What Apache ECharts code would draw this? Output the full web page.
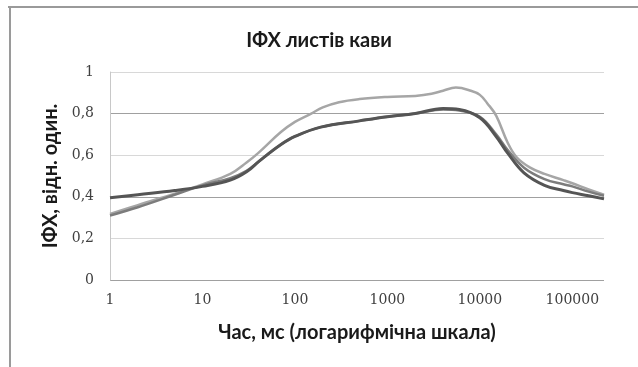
<!DOCTYPE html>
<html>
<head>
<meta charset="utf-8">
<script src="https://cdn.jsdelivr.net/npm/echarts@6/dist/echarts.min.js"></script>
<style>
html,body{margin:0;padding:0;background:#fff;}
#chart{width:638px;height:367px;}
</style>
</head>
<body>
<div id="chart"></div>
<script>
// Time (ms), log scale
const timeLight = [1, 2, 5, 10, 20, 30, 40, 70, 100, 150, 200, 300, 500, 1000, 2000, 3000, 4000, 5500, 8000, 10000, 12000, 15000, 20000, 25000, 35000, 50000, 80000, 100000, 150000, 220000];
const valLight  = [0.317, 0.36, 0.415, 0.46, 0.51, 0.565, 0.61, 0.71, 0.76, 0.80, 0.83, 0.855, 0.87, 0.88, 0.885, 0.895, 0.91, 0.925, 0.91, 0.89, 0.85, 0.79, 0.66, 0.59, 0.54, 0.51, 0.48, 0.465, 0.435, 0.41];

const timeMid = [1, 2, 5, 10, 20, 30, 42, 70, 100, 190, 500, 1000, 2000, 4000, 6000, 10000, 15000, 20000, 30000, 50000, 80000, 100000, 150000, 220000];
const valMid  = [0.31, 0.35, 0.41, 0.455, 0.49, 0.525, 0.575, 0.65, 0.69, 0.735, 0.765, 0.785, 0.80, 0.82, 0.815, 0.785, 0.70, 0.625, 0.54, 0.485, 0.46, 0.45, 0.425, 0.405];

const timeDark = [1, 2, 5, 10, 20, 30, 42, 70, 100, 190, 500, 1000, 2000, 4000, 6000, 10000, 15000, 20000, 30000, 50000, 80000, 100000, 150000, 220000];
const valDark  = [0.395, 0.41, 0.43, 0.45, 0.48, 0.52, 0.575, 0.65, 0.69, 0.735, 0.765, 0.785, 0.80, 0.825, 0.82, 0.78, 0.69, 0.61, 0.515, 0.455, 0.43, 0.42, 0.405, 0.39];

const yTicks = [0, 0.2, 0.4, 0.6, 0.8, 1];

const titleText = 'ІФХ листів кави';
const xName = 'Час, мс (логарифмічна шкала)';
const yName = 'ІФХ, відн. один.';

function pairs(t, v) { return t.map((x, i) => [x, v[i]]); }

const chart = echarts.init(document.getElementById('chart'), null, {renderer: 'canvas'});
const labelFont = {fontFamily: 'DejaVu Serif', fontSize: 14, color: '#404040'};
chart.setOption({
  animation: false,
  backgroundColor: '#fff',
  title: {
    text: titleText, left: 'center', top: 26,
    textStyle: {fontFamily: 'Lato', fontWeight: 'bold', fontSize: 20, color: '#1a1a1a'}
  },
  grid: {left: 110, right: 34, top: 72, bottom: 87},
  xAxis: {
    type: 'log', logBase: 10, min: 1, max: 220000,
    name: xName, nameLocation: 'middle', nameGap: 43,
    nameTextStyle: {fontFamily: 'Lato', fontWeight: 'bold', fontSize: 20, color: '#1a1a1a'},
    axisLine: {show: false},
    axisTick: {show: false},
    splitLine: {show: false},
    axisLabel: Object.assign({margin: 13, showMaxLabel: false, formatter: v => String(Math.round(v))}, labelFont)
  },
  yAxis: {
    type: 'value', min: 0, max: 1, interval: 0.2,
    name: yName, nameLocation: 'middle', nameGap: 48,
    nameTextStyle: {fontFamily: 'Lato', fontWeight: 'bold', fontSize: 20, color: '#1a1a1a'},
    axisLine: {show: true, lineStyle: {color: '#c8c8c8', width: 1}},
    axisTick: {show: false},
    splitLine: {show: true, lineStyle: {color: ['#a0a0a0', '#d8d8d8'], width: 1}},
    axisLabel: Object.assign({margin: 16, formatter: v => {
      const t = yTicks.find(x => Math.abs(x - v) < 1e-9);
      return (t === undefined ? v : t).toString().replace('.', ',');
    }}, labelFont)
  },
  series: [
    {type: 'line', data: pairs(timeLight, valLight), smooth: 0.4, showSymbol: false,
     lineStyle: {color: '#a6a6a6', width: 2.5}},
    {type: 'line', data: pairs(timeMid, valMid), smooth: 0.4, showSymbol: false,
     lineStyle: {color: '#7c7c7c', width: 2.5}},
    {type: 'line', data: pairs(timeDark, valDark), smooth: 0.4, showSymbol: false,
     lineStyle: {color: '#555555', width: 3}}
  ],
  graphic: [
    {type: 'line', shape: {x1: 8, y1: 7, x2: 638, y2: 7}, style: {stroke: '#9a9a9a', lineWidth: 2}, silent: true},
    {type: 'line', shape: {x1: 10, y1: 6, x2: 10, y2: 367}, style: {stroke: '#9a9a9a', lineWidth: 2}, silent: true}
  ]
});
</script>
</body>
</html>
